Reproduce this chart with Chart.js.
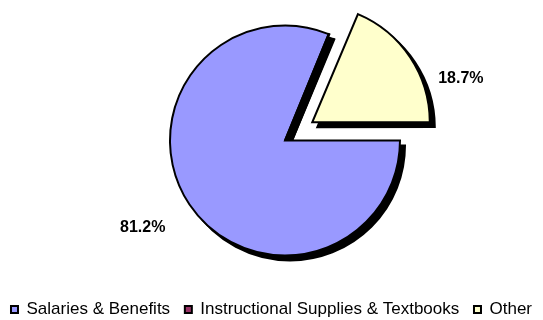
<!DOCTYPE html>
<html lang="en">
<head>
  <meta charset="UTF-8">
  <title>Expenditures Pie</title>
  <script src="https://cdn.jsdelivr.net/npm/chart.js"></script>
  <style>
    html, body {
      margin: 0;
      padding: 0;
      background: #fff;
    }
  </style>
</head>
<body>
  <canvas id="pieChart" width="543" height="320"></canvas>

  <script>
    const categories = ['Salaries & Benefits', 'Instructional Supplies & Textbooks', 'Other'];
    const shares = [81.2, 0.1, 18.7];
    const sliceColors = ['#9999ff', '#993366', '#ffffcc'];
    // how far each wedge is pulled out (Chart.js divides this by 4)
    const pullOut = [0, 0, 131];

    // black copy of every wedge, drawn a few px down-right before the real ones
    const pieShadow = {
      id: 'pieShadow',
      beforeDatasetsDraw(chart, args, opts) {
        const ctx = chart.ctx;
        ctx.save();
        ctx.translate(opts.dx, opts.dy);
        chart.getDatasetMeta(0).data.forEach(arc => {
          const ghost = Object.create(arc);
          ghost.options = Object.assign({}, arc.options, {backgroundColor: '#000', borderColor: '#000'});
          arc.draw.call(ghost, ctx);
        });
        ctx.restore();
      }
    };

    // percentage labels outside the pie
    const sliceLabels = {
      id: 'sliceLabels',
      afterDatasetsDraw(chart, args, opts) {
        const ctx = chart.ctx;
        const data = chart.data.datasets[0].data;
        const total = data.reduce((a, b) => a + b, 0);
        ctx.save();
        ctx.font = 'bold 16px Arial, "Liberation Sans", sans-serif';
        ctx.fillStyle = '#000';
        ctx.textAlign = 'center';
        ctx.textBaseline = 'middle';
        chart.getDatasetMeta(0).data.forEach((arc, i) => {
          const place = opts.place[i];
          if (!place) return;
          const {x, y, startAngle, endAngle, outerRadius} =
            arc.getProps(['x', 'y', 'startAngle', 'endAngle', 'outerRadius'], true);
          const ang = (startAngle + endAngle) / 2 + place.turn * Math.PI / 180;
          const dist = outerRadius * place.out;
          const text = (data[i] / total * 100).toFixed(1) + '%';
          ctx.fillText(text, x + Math.cos(ang) * dist, y + Math.sin(ang) * dist);
        });
        ctx.restore();
      }
    };

    // pie sits right of centre while the legend stays centred; legend hugs the bottom
    const nudgeArea = {
      id: 'nudgeArea',
      afterLayout(chart, args, opts) {
        const a = chart.chartArea;
        a.left += opts.left;
        a.bottom -= opts.bottom;
        a.width = a.right - a.left;
        a.height = a.bottom - a.top;
        if (chart.legend) {
          chart.legend.top += opts.legendDown;
          chart.legend.bottom += opts.legendDown;
        }
      }
    };

    const baseLabels = Chart.overrides.doughnut.plugins.legend.labels.generateLabels;

    new Chart(document.getElementById('pieChart'), {
      type: 'pie',
      data: {
        labels: categories,
        datasets: [{
          data: shares,
          backgroundColor: sliceColors,
          borderColor: '#000',
          borderWidth: 2,
          borderJoinStyle: 'miter',
          offset: pullOut
        }]
      },
      options: {
        responsive: false,
        animation: false,
        rotation: 90,
        radius: 115,
        plugins: {
          tooltip: {enabled: false},
          legend: {
            position: 'bottom',
            labels: {
              color: '#000',
              boxWidth: 7,
              boxHeight: 7,
              padding: 10,
              font: {family: 'Arial, "Liberation Sans", sans-serif', size: 17},
              generateLabels(chart) {
                const items = baseLabels(chart);
                items.forEach((it, i) => {
                  if (i < items.length - 1) it.text += ' ';
                });
                return items;
              }
            }
          },
          pieShadow: {dx: 5, dy: 5},
          sliceLabels: {
            place: [{out: 1.45, turn: 2.4}, null, {out: 1.62, turn: 14.4}]
          },
          nudgeArea: {left: 27, bottom: 2, legendDown: 8}
        }
      },
      plugins: [nudgeArea, pieShadow, sliceLabels]
    });
  </script>
</body>
</html>
